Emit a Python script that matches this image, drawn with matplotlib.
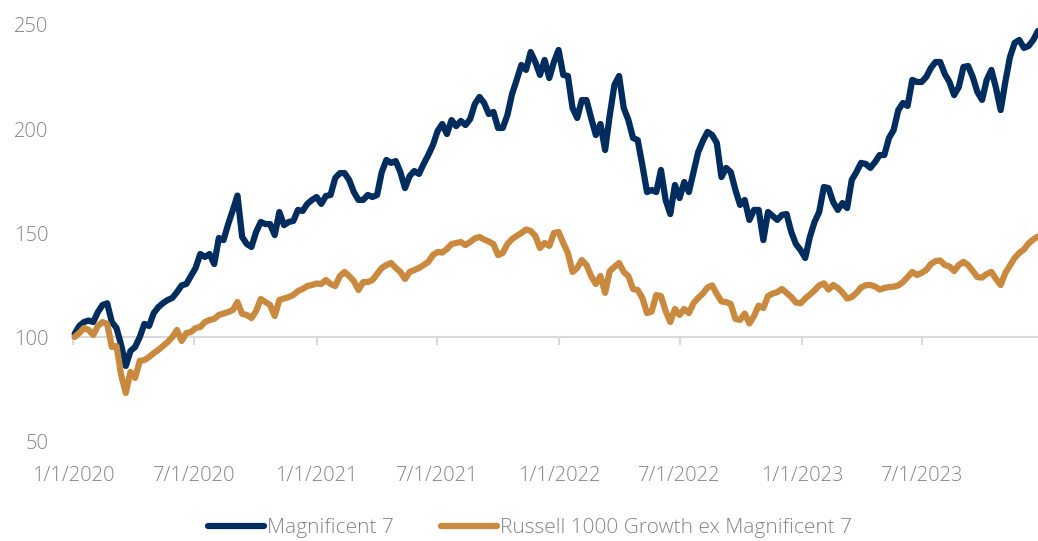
import matplotlib
matplotlib.use("Agg")
import matplotlib.pyplot as plt
import matplotlib.transforms as mtransforms
import pandas as pd

plt.rcParams['font.family'] = ['Open Sans', 'DejaVu Sans']
plt.rcParams['font.weight'] = 'light'

# weekly observations (Fridays), starting 2020-01-03
start_date = "2020-01-03"

mag7 = [
    101.5, 105.3, 107.2, 107.9, 107.2, 112.0, 115.4, 116.2, 107.2, 104.3,
    96.2, 86.1, 93.3, 95.2, 100.0, 106.3, 105.3, 111.5, 114.4, 116.3,
    117.8, 118.8, 121.6, 124.8, 125.5, 129.3, 133.2, 139.9, 138.5, 139.9,
    135.1, 147.6, 146.6, 154.3, 161.0, 168.0, 148.1, 144.7, 143.3, 150.5,
    155.3, 154.3, 154.3, 149.0, 160.1, 153.8, 155.3, 155.8, 161.1, 160.6,
    164.0, 165.9, 167.3, 164.0, 167.8, 168.3, 176.4, 178.8, 178.8, 175.5,
    169.7, 165.9, 165.9, 168.3, 167.3, 168.3, 179.3, 185.1, 183.7, 184.6,
    179.3, 171.6, 177.4, 179.8, 178.4, 183.2, 187.5, 192.3, 199.0, 202.4,
    197.6, 204.3, 201.4, 203.9, 201.9, 204.8, 212.0, 215.4, 212.5, 207.2,
    208.2, 200.5, 200.5, 206.7, 216.8, 223.6, 230.8, 228.4, 237.0, 232.2,
    226.0, 233.2, 224.5, 232.2, 238.0, 226.0, 225.5, 210.1, 205.3, 213.9,
    213.9, 205.3, 197.1, 202.4, 189.9, 206.7, 221.2, 225.5, 210.1, 204.3,
    195.7, 194.7, 182.7, 169.7, 170.7, 169.7, 180.3, 165.9, 159.1, 173.1,
    166.8, 174.5, 169.7, 179.3, 188.9, 194.2, 198.6, 197.1, 193.3, 176.9,
    181.3, 179.3, 170.7, 163.5, 165.9, 156.3, 161.1, 161.1, 146.6, 160.1,
    158.2, 156.3, 158.7, 159.1, 150.5, 144.7, 141.8, 138.0, 148.1, 155.3,
    160.1, 172.1, 171.6, 164.9, 161.1, 164.4, 162.0, 175.5, 179.3, 183.7,
    183.2, 181.3, 184.1, 187.5, 187.5, 195.7, 199.5, 209.1, 212.5, 211.1,
    223.6, 222.6, 222.6, 225.0, 229.3, 232.2, 232.2, 226.4, 222.6, 216.3,
    220.2, 229.8, 230.3, 225.0, 217.8, 214.0, 223.6, 228.4, 219.7, 209.1,
    222.6, 234.6, 241.4, 242.8, 239.0, 239.9, 242.8, 247.1,
]

russell_ex = [
    100.0, 101.9, 104.3, 103.4, 101.0, 105.3, 107.2, 106.3, 95.2, 95.7,
    81.7, 73.1, 83.2, 80.3, 88.5, 88.9, 90.4, 92.3, 93.8, 95.7,
    97.6, 100.0, 103.4, 98.1, 101.9, 102.4, 104.3, 104.8, 107.2, 108.2,
    108.7, 110.6, 111.3, 112.0, 113.0, 116.8, 111.1, 110.6, 109.1, 112.5,
    118.3, 116.8, 115.4, 110.1, 117.8, 118.5, 119.2, 120.2, 122.1, 123.1,
    124.5, 125.0, 125.7, 125.5, 127.4, 125.5, 124.5, 129.3, 131.3, 129.3,
    126.9, 122.6, 126.4, 126.4, 127.4, 130.3, 133.2, 134.6, 135.6, 133.2,
    131.3, 127.9, 131.3, 132.2, 133.2, 134.6, 136.1, 139.4, 140.9, 140.6,
    142.3, 144.7, 145.2, 145.7, 144.2, 145.7, 147.4, 148.1, 146.9, 145.9,
    144.7, 139.4, 140.4, 144.7, 147.1, 148.6, 150.0, 151.7, 151.0, 148.6,
    142.8, 145.2, 143.8, 150.0, 150.5, 145.2, 140.4, 131.3, 133.2, 137.0,
    134.6, 129.3, 125.5, 129.3, 121.2, 131.7, 133.7, 135.6, 131.3, 129.3,
    123.1, 122.6, 118.8, 111.5, 112.3, 120.2, 119.7, 112.5, 107.2, 113.5,
    110.6, 113.5, 111.5, 116.3, 118.8, 120.9, 123.8, 124.8, 120.7, 117.1,
    116.8, 115.9, 108.7, 108.2, 111.3, 106.5, 110.1, 115.1, 113.9, 119.7,
    120.9, 121.6, 123.1, 121.2, 119.2, 116.6, 116.2, 118.5, 120.4, 122.4,
    124.8, 125.8, 122.8, 125.0, 123.6, 121.4, 118.5, 119.2, 121.2, 123.8,
    124.9, 125.0, 124.3, 122.8, 123.6, 124.0, 124.2, 124.8, 126.4, 128.8,
    131.3, 129.8, 130.8, 132.2, 135.1, 136.5, 136.8, 134.6, 133.9, 131.7,
    134.6, 136.1, 134.6, 131.7, 128.8, 128.6, 130.3, 131.3, 127.9, 125.0,
    130.8, 134.4, 138.0, 140.4, 142.1, 145.0, 146.9, 148.3,
]

series_names = ["Magnificent 7", "Russell 1000 Growth ex Magnificent 7"]
tick_dates = ["2020-01-01", "2020-07-01", "2021-01-01", "2021-07-01",
              "2022-01-01", "2022-07-01", "2023-01-01", "2023-07-01"]
tick_labels = ["1/1/2020", "7/1/2020", "1/1/2021", "7/1/2021",
               "1/1/2022", "7/1/2022", "1/1/2023", "7/1/2023"]
y_ticks = [50, 100, 150, 200, 250]

dates = pd.date_range(start_date, periods=len(mag7), freq="7D")
tick_dt = pd.to_datetime(tick_dates)

NAVY = "#012c5e"
GOLD = "#c98a3f"
GRAY_TXT = "#858585"
GRID = "#d9d9d9"
FS = 14.5

fig = plt.figure(figsize=(10.38, 5.41), dpi=100)
ax = fig.add_axes([0.0706, 0.1848, 0.9293, 0.769])

ax.plot(dates, mag7, color=NAVY, lw=4.5, solid_joinstyle="round",
        solid_capstyle="round", label=series_names[0], clip_on=False)
ax.plot(dates, russell_ex, color=GOLD, lw=4.5, solid_joinstyle="round",
        solid_capstyle="round", label=series_names[1], clip_on=False)

ax.set_xlim(pd.Timestamp("2020-01-01"), dates[-1])
ax.set_ylim(50, 250)

for s in ["top", "right", "left"]:
    ax.spines[s].set_visible(False)
ax.spines["bottom"].set_position(("data", 100))
ax.spines["bottom"].set_color(GRID)
ax.spines["bottom"].set_linewidth(1.5)
ax.spines["bottom"].set_zorder(0.5)

ax.set_xticks(tick_dt)
ax.tick_params(axis="x", direction="out", length=6, width=1.5, color=GRID,
               labelbottom=False)
ax.set_yticks(y_ticks)
ax.set_yticklabels([str(v) for v in y_ticks])
ax.tick_params(axis="y", length=0, pad=18, labelsize=FS, labelcolor=GRAY_TXT)

blend = mtransforms.blended_transform_factory(ax.transData, ax.transAxes)
for d, lab in zip(tick_dt, tick_labels):
    ax.text(d, -0.085, lab, transform=blend, ha="center", va="center",
            fontsize=FS, color=GRAY_TXT)

leg = fig.legend(loc="center", bbox_to_anchor=(0.5106, 0.024), ncol=2,
                 frameon=False, fontsize=15, handlelength=2.65,
                 handletextpad=0.15, columnspacing=2.3, borderpad=0,
                 borderaxespad=0)
for t in leg.get_texts():
    t.set_color(GRAY_TXT)
for h in leg.get_lines():
    h.set_linewidth(4.5)

fig.savefig("out.png", dpi=100)
